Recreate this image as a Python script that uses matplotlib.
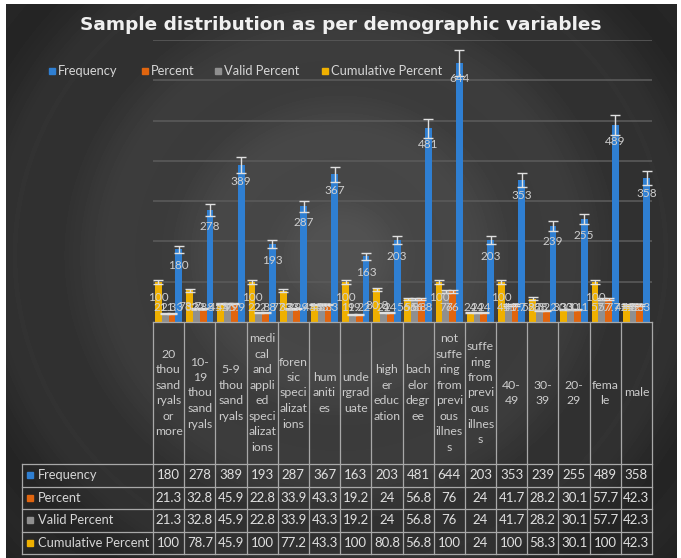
import numpy as np
import matplotlib

matplotlib.use("Agg")
import matplotlib.pyplot as plt

# data
categories = [
    "20\nthou\nsand\nryals\nor\nmore",
    "10-\n19\nthou\nsand\nryals",
    "5-9\nthou\nsand\nryals",
    "medi\ncal\nand\nappli\ned\nspeci\nalizat\nions",
    "foren\nsic\nspeci\nalizat\nions",
    "hum\naniti\nes",
    "unde\nrgrad\nuate",
    "high\ner\neduc\nation",
    "bach\nelor\ndegr\nee",
    "not\nsuffe\nring\nfrom\nprevi\nous\nillnes\ns",
    "suffe\nring\nfrom\nprevi\nous\nillnes\ns",
    "40-\n49",
    "30-\n39",
    "20-\n29",
    "fema\nle",
    "male",
]
frequency = [180, 278, 389, 193, 287, 367, 163, 203, 481, 644, 203, 353, 239, 255, 489, 358]
percent = [21.3, 32.8, 45.9, 22.8, 33.9, 43.3, 19.2, 24, 56.8, 76, 24, 41.7, 28.2, 30.1, 57.7, 42.3]
valid_percent = [21.3, 32.8, 45.9, 22.8, 33.9, 43.3, 19.2, 24, 56.8, 76, 24, 41.7, 28.2, 30.1, 57.7, 42.3]
cumulative = [100, 78.7, 45.9, 100, 77.2, 43.3, 100, 80.8, 56.8, 100, 24, 100, 58.3, 30.1, 100, 42.3]

series_names = ["Frequency", "Percent", "Valid Percent", "Cumulative Percent"]
series_values = [frequency, percent, valid_percent, cumulative]
colors = ["#2f7fd2", "#e0650f", "#8f8f8f", "#efb000"]

W, H = 681, 558
FONT = "Lato"
TXT = "#d6d6d6"

fig = plt.figure(figsize=(W / 100, H / 100), dpi=100, facecolor="white")

# radial dark background (chart area inside a thin white border)
bg = fig.add_axes([6 / W, 0, (677 - 6) / W, (H - 4) / H])
yy, xx = np.mgrid[4:H, 6:677]
r = np.hypot(xx - 340, (yy - 255) * 1.05) / 460
shade = 0.32 - 0.19 * r + 0.012 * np.sin(r * 28)
shade = np.clip(shade, 0.10, 0.37)
bg.imshow(shade, cmap="gray", vmin=0, vmax=1, aspect="auto",
          extent=(6, 677, H, 4), interpolation="bilinear")
bg.set_axis_off()

# plot area in pixel terms
left, right, top, bottom = 153, 652, 40, 322
ax = fig.add_axes([left / W, 1 - bottom / H, (right - left) / W, (bottom - top) / H])
ax.patch.set_alpha(0)
n = len(categories)
x = np.arange(n)
bw = 0.218
ax.set_xlim(-0.5, n - 0.5)
ax.set_ylim(0, 700)
for gy in range(100, 701, 100):
    ax.axhline(gy, color="#5a5a5a", lw=1.2, zorder=0)
for s in ax.spines.values():
    s.set_visible(False)
ax.set_xticks([])
ax.set_yticks([])

# bars are drawn right-to-left within each group (Excel reversed order)
for k, (vals, col) in enumerate(zip(series_values, colors)):
    offs = (1.5 - k) * bw
    vals = np.array(vals, dtype=float)
    ax.bar(x + offs, vals, width=bw, color=col, zorder=2, linewidth=0)
    ax.errorbar(x + offs, vals, yerr=vals * 0.05, fmt="none", ecolor="#e0e0e0",
                elinewidth=1, capsize=3.3, capthick=1, zorder=3)
    for xi, v in zip(x + offs, vals):
        ax.text(xi, max(v - 40, 37), f"{v:g}", ha="center", va="center",
                fontsize=8.5, color="#cfcfcf", family=FONT, zorder=4)

# overlay for title, legend and data table
ov = fig.add_axes([0, 0, 1, 1])
ov.set_xlim(0, W)
ov.set_ylim(H, 0)
ov.set_axis_off()
ov.patch.set_alpha(0)

ov.text(341, 25, "Sample distribution as per demographic variables", ha="center", va="center",
        fontsize=13.3, fontweight="bold", color="#f0f0f0", family="DejaVu Sans")

leg_x = [49, 142, 215, 322]
for lx, name, col in zip(leg_x, series_names, colors):
    ov.add_patch(plt.Rectangle((lx, 68), 6, 6, color=col))
    ov.text(lx + 9, 71, name, ha="left", va="center", fontsize=9.3, color=TXT, family=FONT)

# table grid
colw = (right - left) / n
row_tops = [464, 486.5, 509, 531.5, 554]
line_kw = dict(color="#a8a8a8", lw=0.9)
for i in range(n + 1):
    xv = left + i * colw
    ov.plot([xv, xv], [bottom, row_tops[-1]], **line_kw)
ov.plot([left, right], [bottom, bottom], **line_kw)
for yv in row_tops:
    ov.plot([22, right], [yv, yv], **line_kw)
ov.plot([22, 22], [row_tops[0], row_tops[-1]], **line_kw)

for i, lab in enumerate(categories):
    ov.text(left + (i + 0.5) * colw, (bottom + row_tops[0]) / 2, lab, ha="center", va="center",
            fontsize=8.8, color="#cccccc", family=FONT, linespacing=1.5)

for r_i, (name, vals, col) in enumerate(zip(series_names, series_values, colors)):
    yc = (row_tops[r_i] + row_tops[r_i + 1]) / 2
    ov.add_patch(plt.Rectangle((27, yc - 3), 6, 6, color=col))
    ov.text(38, yc, name, ha="left", va="center", fontsize=9.3, color=TXT, family=FONT)
    for i, v in enumerate(vals):
        ov.text(left + (i + 0.5) * colw, yc, f"{v:g}", ha="center", va="center",
                fontsize=9.5, color="#e0e0e0", family=FONT)

fig.savefig("out.png", dpi=100, facecolor="white")
plt.close(fig)
